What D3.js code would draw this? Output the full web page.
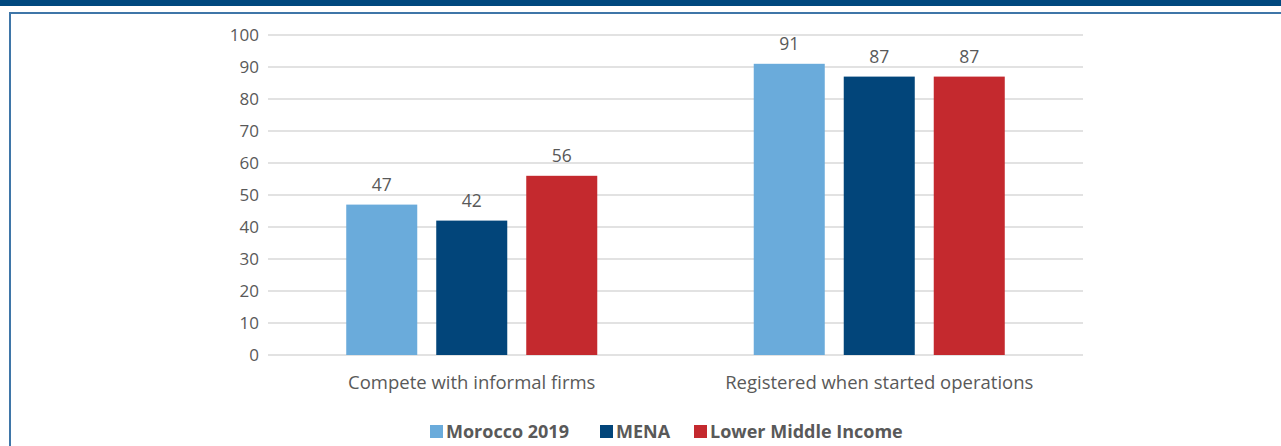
<!DOCTYPE html>
<html>
<head>
<meta charset="utf-8">
<script src="https://cdn.jsdelivr.net/npm/d3@7"></script>
<style>
  body { margin: 0; background: #fff; }
  svg { display: block; font-family: 'Open Sans', sans-serif; }
</style>
</head>
<body>
<svg id="chart"></svg>
<script>
const categories = ['Compete with informal firms', 'Registered when started operations'];
const seriesNames = ['Morocco 2019', 'MENA', 'Lower Middle Income'];
const morocco = [47, 91];
const mena = [42, 87];
const lowerMiddle = [56, 87];
const yTicks = [0, 10, 20, 30, 40, 50, 60, 70, 80, 90, 100];
const colors = ['#6aabdb', '#02457a', '#c4292e'];

const values = [morocco, mena, lowerMiddle];
const data = categories.map((c, i) => ({
  category: c,
  items: seriesNames.map((s, j) => ({ series: s, value: values[j][i] }))
}));

const width = 1281;
const height = 446;
const margin = { top: 35, right: 198, bottom: 91, left: 268 };

const svg = d3.select('#chart').attr('width', width).attr('height', height);

// frame: top band and box border
svg.append('rect').attr('x', 0).attr('y', 0).attr('width', width).attr('height', 6).attr('fill', '#00497f');
svg.append('line').attr('x1', 9).attr('x2', width).attr('y1', 13).attr('y2', 13)
  .attr('stroke', '#3f76a8').attr('stroke-width', 2);
svg.append('line').attr('x1', 10).attr('x2', 10).attr('y1', 12).attr('y2', height)
  .attr('stroke', '#3f76a8').attr('stroke-width', 2);

const y = d3.scaleLinear()
  .domain([0, 100])
  .range([height - margin.bottom, margin.top]);

const x0 = d3.scaleBand()
  .domain(categories)
  .range([margin.left, width - margin.right])
  .paddingInner(0.384)
  .paddingOuter(0.192);

const x1 = d3.scaleBand()
  .domain(seriesNames)
  .range([0, x0.bandwidth()])
  .paddingInner(0.211);

const color = d3.scaleOrdinal().domain(seriesNames).range(colors);

// grid
svg.append('g')
  .selectAll('line')
  .data(yTicks)
  .join('line')
  .attr('x1', margin.left)
  .attr('x2', width - margin.right)
  .attr('y1', (d) => y(d))
  .attr('y2', (d) => y(d))
  .attr('stroke', '#d9d9d9')
  .attr('stroke-width', 1.5);

// y axis labels
svg.append('g')
  .attr('transform', `translate(${margin.left - 9},0)`)
  .call(d3.axisLeft(y).tickValues(yTicks).tickSize(0).tickPadding(0))
  .call((g) => g.select('.domain').remove())
  .call((g) => g.selectAll('text')
    .attr('font-family', "'Open Sans', sans-serif")
    .attr('font-size', 17)
    .attr('fill', '#595959'));

// bars
const groups = svg.append('g')
  .selectAll('g')
  .data(data)
  .join('g')
  .attr('transform', (d) => `translate(${x0(d.category)},0)`);

groups.selectAll('rect')
  .data((d) => d.items)
  .join('rect')
  .attr('x', (d) => x1(d.series))
  .attr('y', (d) => y(d.value))
  .attr('width', x1.bandwidth())
  .attr('height', (d) => y(0) - y(d.value))
  .attr('fill', (d) => color(d.series));

groups.selectAll('text')
  .data((d) => d.items)
  .join('text')
  .attr('x', (d) => x1(d.series) + x1.bandwidth() / 2)
  .attr('y', (d) => y(d.value) - 14)
  .attr('text-anchor', 'middle')
  .attr('font-size', 17.5)
  .attr('fill', '#595959')
  .text((d) => d.value);

// x axis labels
svg.append('g')
  .attr('transform', `translate(0,${y(0)})`)
  .call(d3.axisBottom(x0).tickSize(0).tickPadding(21))
  .call((g) => g.select('.domain').remove())
  .call((g) => g.selectAll('text')
    .attr('font-family', "'Open Sans', sans-serif")
    .attr('font-size', 18.5)
    .attr('fill', '#595959'));

// legend
const legendX = [430, 600, 694];
const legend = svg.append('g')
  .selectAll('g')
  .data(seriesNames)
  .join('g')
  .attr('transform', (d, i) => `translate(${legendX[i]},425)`);

legend.append('rect')
  .attr('width', 13)
  .attr('height', 13)
  .attr('fill', (d) => color(d));

legend.append('text')
  .attr('x', 16)
  .attr('y', 13)
  .attr('font-size', 18)
  .attr('font-weight', 'bold')
  .attr('fill', '#595959')
  .text((d) => d);
</script>
</body>
</html>
